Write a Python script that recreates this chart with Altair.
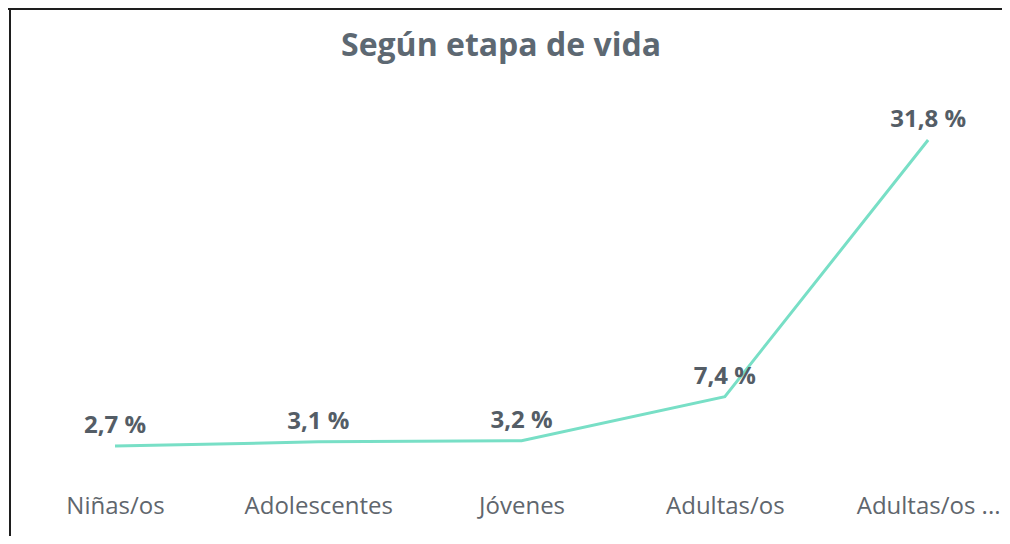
import altair as alt
import pandas as pd

categories = ["Niñas/os", "Adolescentes", "Jóvenes", "Adultas/os", "Adultas/os ..."]
values = [2.7, 3.1, 3.2, 7.4, 31.8]
labels = [f"{v:.1f} %".replace(".", ",") for v in values]

df = pd.DataFrame({"etapa": categories, "valor": values, "etiqueta": labels})

W, H = 992, 527
FONT = "Open Sans"

x = alt.X(
    "etapa:N",
    sort=categories,
    scale=alt.Scale(type="point", padding=0.44, align=0.587),
    axis=alt.Axis(
        title=None, domain=False, ticks=False, tickSize=0, grid=False,
        labelFont=FONT, labelFontSize=24, labelColor="#5f666d",
        labelPadding=0, labelBaseline="alphabetic", labelAngle=0,
        offset=-23, labelLimit=300,
    ),
)
y = alt.Y("valor:Q", scale=alt.Scale(domain=[-5.85, 44.25], nice=False, zero=False), axis=None)

base = alt.Chart(df).encode(x=x, y=y)

line = base.mark_line(color="#78dfc6", strokeWidth=3)
text = base.mark_text(
    font=FONT, fontSize=24, fontWeight="bold", color="#545d66",
    baseline="alphabetic", dy=-13,
).encode(text="etiqueta:N")

frame_df = pd.DataFrame({"k": [0]})
top_rule = alt.Chart(frame_df).mark_rule(color="#1e1e1e", strokeWidth=2).encode(
    x=alt.value(-2), x2=alt.value(W + 10), y=alt.value(0)
)
left_rule = alt.Chart(frame_df).mark_rule(color="#1e1e1e", strokeWidth=2).encode(
    x=alt.value(0), y=alt.value(-1), y2=alt.value(H + 10)
)

chart = (
    alt.layer(line, text, top_rule, left_rule)
    .properties(
        width=W, height=H,
        title=alt.TitleParams(
            "Según etapa de vida", font=FONT, fontSize=32, fontWeight="bold",
            color="#5d6872", anchor="middle", baseline="alphabetic",
            offset=-46, dx=-5, dy=35,
        ),
        autosize=alt.AutoSizeParams(type="none"),
        padding={"left": 2, "top": 1, "right": 0, "bottom": 0},
    )
    .configure_view(stroke=None)
)

chart.save("out.html", embed_options={"renderer": "svg", "actions": False})
